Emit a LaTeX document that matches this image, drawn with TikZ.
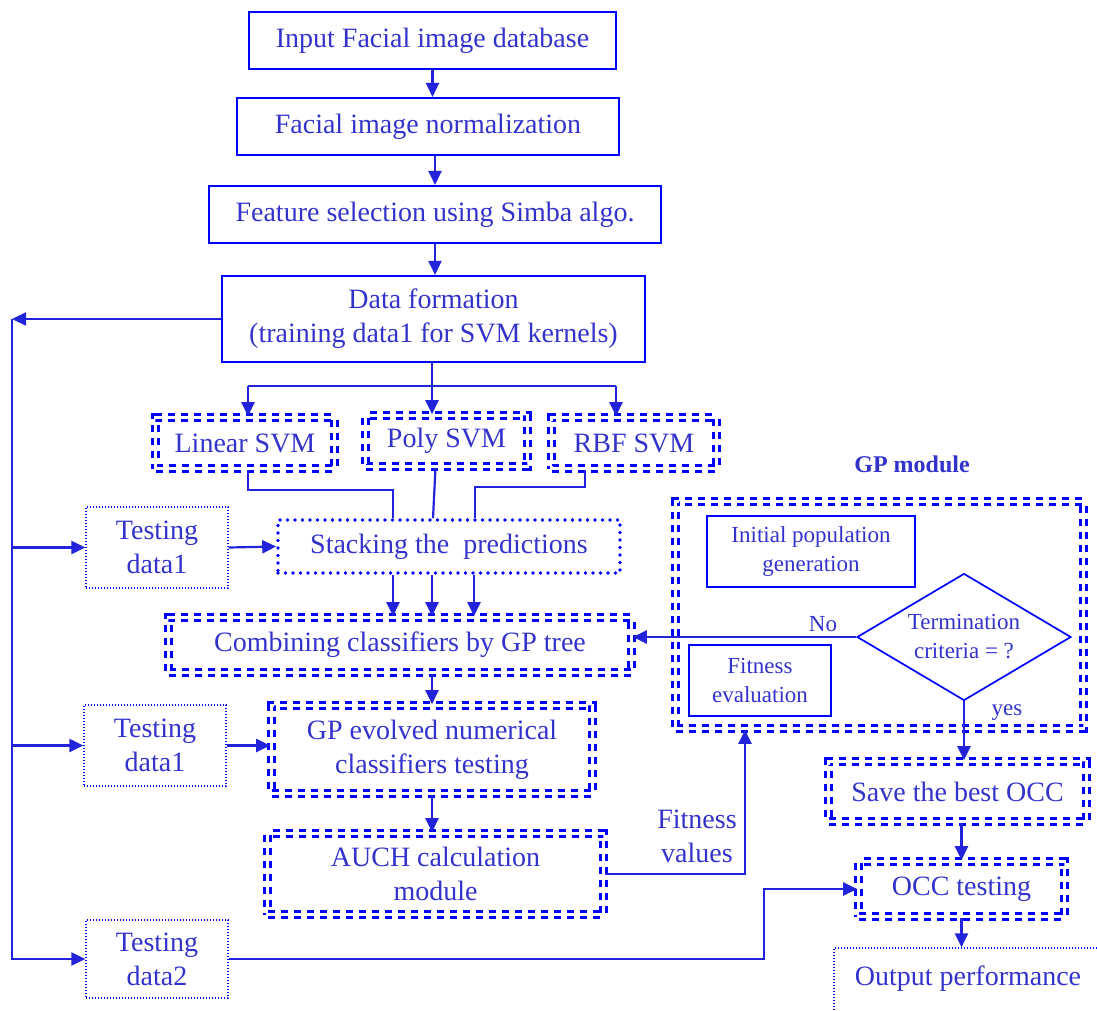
\documentclass[tikz,border=0pt]{standalone}
\usepackage{fontspec}
\setmainfont{Liberation Serif}
\usetikzlibrary{shapes.geometric,arrows.meta}
\definecolor{tb}{RGB}{51,51,204}
\definecolor{lb}{RGB}{0,0,255}
\definecolor{cb}{RGB}{35,35,220}
\begin{document}
\begin{tikzpicture}[x=1pt,y=-1pt,
  every node/.style={text=tb, font=\fontsize{28}{34}\selectfont, align=center, inner sep=0pt},
  small/.style={font=\fontsize{23}{29}\selectfont},
  sbox/.style={draw=lb, line width=2.1pt, rectangle},
  tbox/.style={draw=lb, line width=1.7pt, rectangle},
  dbox/.style={draw=lb, line width=2.6pt, double=white, double distance=3pt, dash pattern=on 7pt off 6pt},
  fdot/.style={draw=lb, line width=1.3pt, dash pattern=on 1.3pt off 1.7pt},
  hdot/.style={draw=lb, line width=3.6pt, dash pattern=on 0pt off 7.5pt, line cap=round},
  conn/.style={draw=cb, line width=2.2pt},
  arr/.style={draw=cb, line width=2.2pt, -{Triangle[length=14pt,width=13pt]}},
]
\useasboundingbox (0,0) rectangle (1097,1010);
\clip (0,0) rectangle (1097,1010);

% main column
\node[sbox, minimum width=367pt, minimum height=57pt] (n1) at (432.5,40.5) {Input Facial image database};
\node[sbox, minimum width=382pt, minimum height=57pt] (n2) at (428,126.5) {Facial image normalization};
\node[sbox, minimum width=452pt, minimum height=57pt] (n3) at (435,214.5) {Feature selection using Simba algo.};
\node[sbox, minimum width=423pt, minimum height=86pt] (n4) at (433.5,319) {Data formation\\(training data1 for SVM kernels)};

\node[dbox, minimum width=179pt, minimum height=51pt] (lin) at (245,443) {Linear SVM};
\node[dbox, minimum width=162pt, minimum height=51pt] (poly) at (446.5,441) {Poly SVM};
\node[dbox, minimum width=165pt, minimum height=51pt] (rbf) at (634,443) {RBF SVM};

\node[hdot, minimum width=342pt, minimum height=53pt] (stk) at (449,546.5) {Stacking the\ \ predictions};
\node[fdot, minimum width=142pt, minimum height=81pt] (t1) at (157,547.5) {Testing\\data1};

\node[dbox, minimum width=463pt, minimum height=55pt] (comb) at (400,645) {Combining classifiers by GP tree};
\node[fdot, minimum width=142pt, minimum height=81pt] (t1b) at (155,745.5) {Testing\\data1};
\node[dbox, minimum width=321pt, minimum height=88pt] (gpe) at (432,749.5) {GP evolved numerical\\classifiers testing};
\node[dbox, minimum width=336pt, minimum height=81pt] (auch) at (435.5,874) {AUCH calculation\\module};
\node[fdot, minimum width=142pt, minimum height=78pt] (t2) at (157,959) {Testing\\data2};

\node (fvl) at (697,836) {Fitness\\values};

% GP module
\node[font=\fontsize{24}{28}\selectfont\bfseries] (gpl) at (912,464) {GP module};
\node[dbox, minimum width=408pt, minimum height=227pt] (gpm) at (879.5,615) {};
\node[tbox, small, minimum width=208pt, minimum height=71pt] (ipg) at (811,551.5) {Initial population\\generation};
\node[tbox, small, minimum width=142pt, minimum height=71pt] (fe) at (760,680.5) {Fitness\\evaluation};
\node[draw=lb, line width=1.7pt, diamond, aspect=1.68, small, minimum width=214pt, minimum height=127pt] (dia) at (964,637) {Termination\\criteria = ?};
\node[small] (nol) at (823,624) {No};
\node[small] (yesl) at (1007,713) {yes};

\node[dbox, minimum width=258pt, minimum height=60pt] (save) at (957.5,791.5) {Save the best OCC};
\node[dbox, minimum width=206pt, minimum height=55pt] (occ) at (961.5,889) {OCC testing};
\node[fdot, minimum width=264pt, minimum height=68pt] (out) at (966,982) {};
\node (outt) at (968,979) {Output performance};

% connectors in main column
\draw[arr] (n1.south) -- (n1.south |- n2.north);
\draw[arr] (n2.south -| n3.north) -- (n3.north);
\draw[arr] (n3.south) -- (n3.south |- n4.north);

\coordinate (sp) at (432,386);
\draw[conn] (n4.south -| sp) -- (sp);
\draw[conn] ([xshift=3pt]lin.north |- sp) -- ([xshift=-18pt]rbf.north |- sp);
\draw[arr] ([xshift=3pt]lin.north |- sp) -- ([xshift=3pt]lin.north);
\draw[arr] (sp) -- (sp |- poly.north);
\draw[arr] ([xshift=-18pt]rbf.north |- sp) -- ([xshift=-18pt]rbf.north);

\draw[conn] ([xshift=3pt]lin.south) -- ++(0,20) -| ([xshift=-56pt]stk.north);
\draw[conn] ([xshift=-11pt]poly.south) -- ([xshift=-16pt]stk.north);
\draw[conn] ([xshift=-49pt]rbf.south) -- ++(0,17) -| ([xshift=26pt]stk.north);

\draw[arr] (t1.east) -- (stk.west);
\draw[arr] ([xshift=-56pt]stk.south) -- ([xshift=-56pt]stk.south |- comb.north);
\draw[arr] ([xshift=-17pt]stk.south) -- ([xshift=-17pt]stk.south |- comb.north);
\draw[arr] ([xshift=25pt]stk.south) -- ([xshift=25pt]stk.south |- comb.north);

\draw[arr] (comb.south -| gpe.north) -- (gpe.north);
\draw[arr] (t1b.east) -- (t1b.east -| gpe.west);
\draw[arr] (gpe.south) -- (gpe.south |- auch.north);

% left bus
\coordinate (bus) at (12,960);
\draw[arr] (n4.west) -- (n4.west -| bus);
\draw[conn] (n4.west -| bus) -- (bus);
\draw[arr] (t1.west -| bus) -- (t1.west);
\draw[arr] (t1b.west -| bus) -- (t1b.west);
\draw[arr] (t2.west -| bus) -- (t2.west);

% fitness feedback
\draw[arr] (auch.east) -| ([xshift=-134.5pt]gpm.south);
% testing data2 to OCC testing
\draw[arr] (t2.east) -- ++(535,0) |- (occ.west);

% GP module connectors
\draw[arr] (dia.west) -- (dia.west -| comb.east);
\draw[arr] (dia.south) -- (dia.south |- save.north);
\draw[arr] (occ.north |- save.south) -- (occ.north);
\draw[arr] (occ.south) -- (occ.south |- out.north);
\end{tikzpicture}
\end{document}
